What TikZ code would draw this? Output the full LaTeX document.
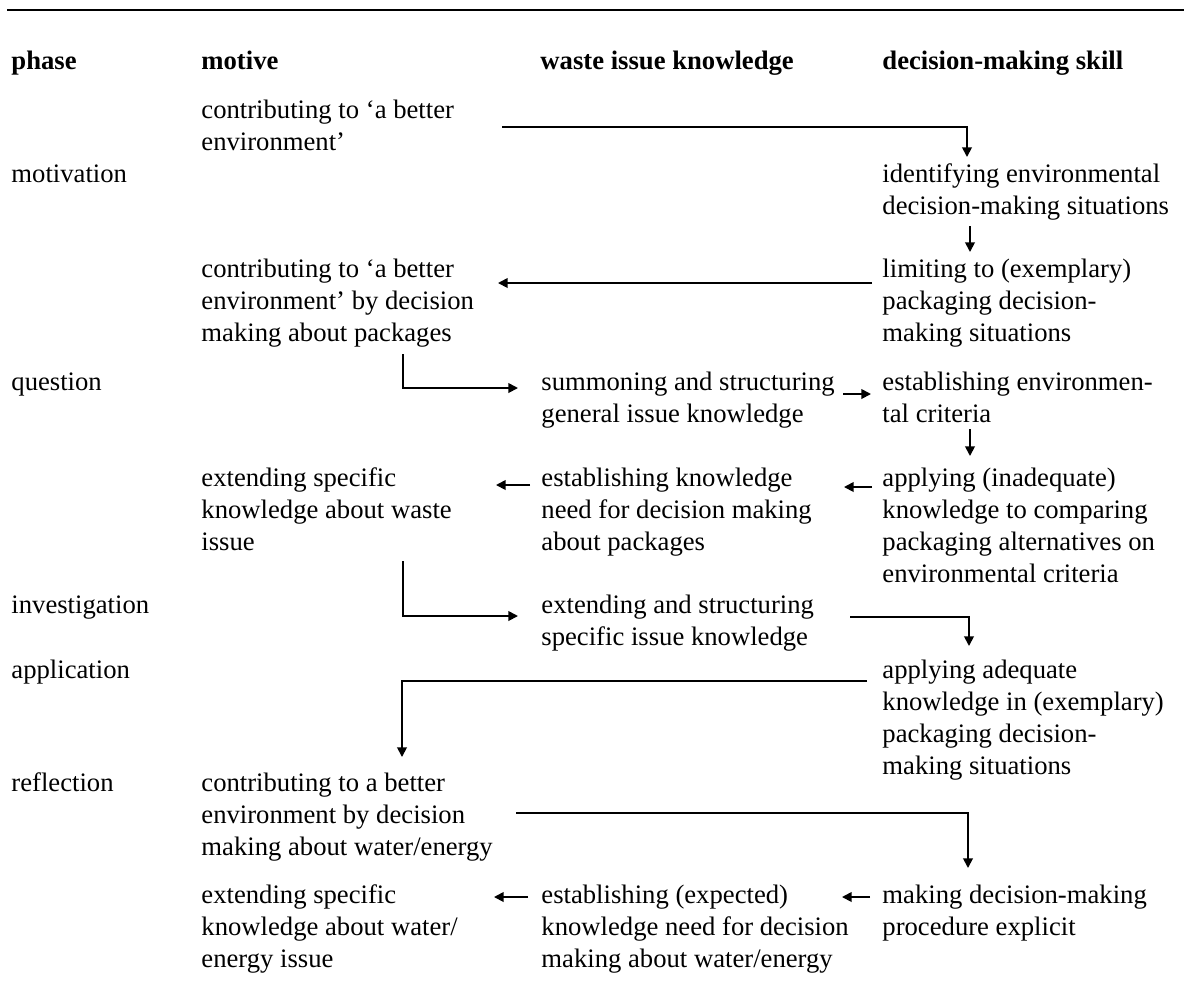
\documentclass[tikz,border=0pt]{standalone}
\usepackage{fontspec}
\setmainfont{Liberation Serif}
\usetikzlibrary{arrows.meta}
\begin{document}
\begin{tikzpicture}[x=0.45pt,y=-0.45pt,
  txt/.style={anchor=north west,inner sep=0pt,align=left,
    font=\fontsize{12}{14.4}\selectfont},
  hdr/.style={txt,font=\fontsize{12}{14.4}\selectfont\bfseries},
  rule/.style={line width=1.3pt},
  arr/.style={line width=0.8pt,-{Triangle[length=4.3pt,width=4.3pt]}}]
\useasboundingbox (0,0) rectangle (1184,1000);

% top rule
\coordinate (ruleL) at (7,10);
\coordinate (ruleR) at (1184,10);
\draw[rule] (ruleL) -- (ruleR);

% column headers
\node[hdr] (hphase) at (11,47)  {\strut phase};
\node[hdr] (hmot)   at (201,47) {\strut motive};
\node[hdr] (hwaste) at (540,47) {\strut waste issue knowledge};
\node[hdr] (hskill) at (882,47) {\strut decision-making skill};

% phases
\node[txt] (pmot) at (11,160) {\strut motivation};
\node[txt] (pque) at (11,368) {\strut question};
\node[txt] (pinv) at (11,591) {\strut investigation};
\node[txt] (papp) at (11,656) {\strut application};
\node[txt] (pref) at (11,769) {\strut reflection};

% motive column
\node[txt] (c1)    at (201,96)  {\strut contributing to ‘a better\\environment’};
\node[txt] (c2)    at (201,255) {\strut contributing to ‘a better\\environment’ by decision\\making about packages};
\node[txt] (extw)  at (201,464) {\strut extending specific\\knowledge about waste\\issue};
\node[txt] (c3)    at (201,769) {\strut contributing to a better\\environment by decision\\making about water/energy};
\node[txt] (extwe) at (201,881) {\strut extending specific\\knowledge about water/\\energy issue};

% waste issue knowledge column
\node[txt] (sum)    at (541,368) {\strut summoning and structuring\\general issue knowledge};
\node[txt] (need)   at (541,464) {\strut establishing knowledge\\need for decision making\\about packages};
\node[txt] (ext)    at (541,591) {\strut extending and structuring\\specific issue knowledge};
\node[txt] (needwe) at (541,881) {\strut establishing (expected)\\knowledge need for decision\\making about water/energy};

% decision-making skill column
\node[txt] (idn)  at (882,160) {\strut identifying environmental\\decision-making situations};
\node[txt] (lim)  at (882,255) {\strut limiting to (exemplary)\\packaging decision-\\making situations};
\node[txt] (crit) at (882,368) {\strut establishing environmen-\\tal criteria};
\node[txt] (appi) at (882,464) {\strut applying (inadequate)\\knowledge to comparing\\packaging alternatives on\\environmental criteria};
\node[txt] (appa) at (882,656) {\strut applying adequate\\knowledge in (exemplary)\\packaging decision-\\making situations};
\node[txt] (expl) at (882,881) {\strut making decision-making\\procedure explicit};

% connector end points
\coordinate (c1-out)   at (502,127);
\coordinate (idn-in)   at (967,157);
\coordinate (idn-out)  at (970,226);
\coordinate (lim-in)   at (970,252);
\coordinate (lim-out)  at (872,283);
\coordinate (c2-in)    at (498,283);
\coordinate (c2-out)   at (403,354);
\coordinate (sum-in)   at (518,388);
\coordinate (sum-out)  at (843,394);
\coordinate (crit-in)  at (871,394);
\coordinate (crit-out) at (970,429);
\coordinate (appi-in)  at (970,456);
\coordinate (appi-out) at (872,487);
\coordinate (need-in)  at (844,487);
\coordinate (need-out) at (530,485);
\coordinate (extw-in)  at (496,485);
\coordinate (extw-out) at (403,561);
\coordinate (ext-in)   at (518,616);
\coordinate (ext-out)  at (850,617);
\coordinate (appa-in)  at (969,646);
\coordinate (appa-out) at (867,681);
\coordinate (c3-in)    at (402,757);
\coordinate (c3-out)   at (516,813);
\coordinate (expl-in)  at (968,868);
\coordinate (expl-out) at (870,897);
\coordinate (nwe-in)   at (842,897);
\coordinate (nwe-out)  at (528,897);
\coordinate (extwe-in) at (494,897);

% connectors
\draw[arr] (c1-out) -| (idn-in);
\draw[arr] (idn-out) -- (lim-in);
\draw[arr] (lim-out) -- (c2-in);
\draw[arr] (c2-out) |- (sum-in);
\draw[arr] (sum-out) -- (crit-in);
\draw[arr] (crit-out) -- (appi-in);
\draw[arr] (appi-out) -- (need-in);
\draw[arr] (need-out) -- (extw-in);
\draw[arr] (extw-out) |- (ext-in);
\draw[arr] (ext-out) -| (appa-in);
\draw[arr] (appa-out) -| (c3-in);
\draw[arr] (c3-out) -| (expl-in);
\draw[arr] (expl-out) -- (nwe-in);
\draw[arr] (nwe-out) -- (extwe-in);
\end{tikzpicture}
\end{document}
